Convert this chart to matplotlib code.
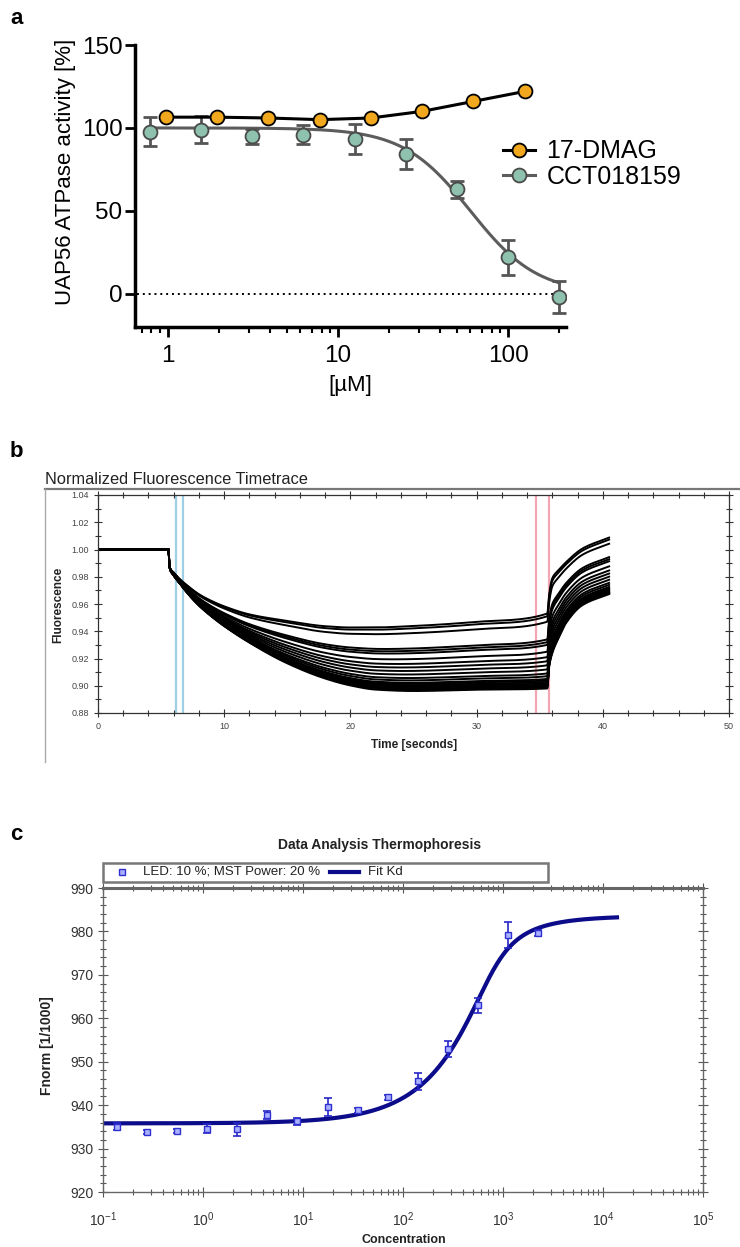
import numpy as np
import matplotlib
matplotlib.use("Agg")
import matplotlib.pyplot as plt
from matplotlib.lines import Line2D
from matplotlib.patches import Rectangle
from matplotlib.ticker import MultipleLocator, FormatStrFormatter, LogLocator, NullFormatter, FixedLocator, FixedFormatter

plt.rcParams['font.family'] = ['Liberation Sans', 'DejaVu Sans']
plt.rcParams['mathtext.fontset'] = 'custom'
plt.rcParams['mathtext.rm'] = 'Liberation Sans'
plt.rcParams['mathtext.it'] = 'Liberation Sans:italic'
plt.rcParams['mathtext.bf'] = 'Liberation Sans:bold'

# ---------------- Panel a data ----------------
dmag_conc = [0.98, 1.95, 3.9, 7.8, 15.6, 31.25, 62.5, 125]
dmag_act = [106.5, 106.5, 106, 105, 106, 110, 116, 122]
cct_conc = [0.78, 1.56, 3.125, 6.25, 12.5, 25, 50, 100, 200]
cct_act = [97.6, 99.0, 95.0, 96.0, 93.5, 84.5, 63.0, 22.0, -1.8]
cct_err = [8.7, 8.0, 4.5, 5.5, 9.0, 9.0, 5.0, 10.5, 9.5]
cct_fit_top, cct_fit_bottom, cct_fit_ic50, cct_fit_hill = 100.0, 0.0, 60.0, 2.2

# ---------------- Panel b data ----------------
time_knots = [0, 5.6, 5.65, 6.0, 6.5, 7.0, 8.0, 9.0, 10.0, 12.0, 15.0, 18.0, 20.0, 22.0,
              25.0, 30.0, 35.6, 35.75, 36.0, 36.5, 37.1, 38.4, 40.5]
top_trace = [1.0, 1.0, 0.988, 0.983, 0.978, 0.974, 0.967, 0.962, 0.958, 0.952, 0.947, 0.943,
             0.942, 0.942, 0.943, 0.946, 0.952, 0.966, 0.978, 0.984, 0.990, 1.000, 1.008]
bottom_trace = [1.0, 1.0, 0.988, 0.981, 0.975, 0.969, 0.959, 0.951, 0.944, 0.932, 0.917, 0.906,
                0.901, 0.898, 0.897, 0.898, 0.899, 0.915, 0.925, 0.936, 0.947, 0.960, 0.968]
plateau_levels = [0.953, 0.951, 0.947, 0.934, 0.932, 0.930, 0.925, 0.921, 0.918, 0.915, 0.912,
                  0.909, 0.907, 0.905, 0.904, 0.903, 0.902, 0.901, 0.900, 0.900, 0.899, 0.899, 0.898]
cold_region = [6.2, 6.75]
hot_region = [34.7, 35.7]

# ---------------- Panel c data ----------------
mst_conc = [0.137, 0.275, 0.55, 1.1, 2.2, 4.4, 8.8, 17.6, 35.2, 70.3, 140.6, 281, 562, 1125, 2250]
mst_fnorm = [935.0, 933.8, 934.0, 934.6, 934.4, 937.7, 936.3, 939.6, 938.8, 941.8, 945.5, 952.9,
             963.0, 979.2, 979.6]
mst_err = [0.8, 0.5, 0.5, 1.0, 1.5, 1.0, 0.8, 2.0, 0.6, 0.6, 2.0, 1.8, 1.7, 3.0, 0.7]
fit_unbound, fit_bound, fit_target, fit_kd = 935.8, 983.6, 700.0, 100.0
conc_ticks = [0.1, 1, 10, 100, 1000, 10000, 100000]
conc_labels = ['$10^{-1}$', '$10^{0}$', '$10^{1}$', '$10^{2}$', '$10^{3}$', '$10^{4}$', '$10^{5}$']

W, H = 740, 1247
def fx(px): return px / W
def fy(py): return 1 - py / H

fig = plt.figure(figsize=(7.4, 12.47), dpi=100)

# ===================== Panel a =====================
axa = fig.add_axes([fx(135), fy(327), (566 - 135) / W, (327 - 45) / H])
axa.set_xscale('log')
axa.set_xlim(0.64, 219)
axa.set_ylim(-20, 150)
for s in ['top', 'right']:
    axa.spines[s].set_visible(False)
for s in ['left', 'bottom']:
    axa.spines[s].set_linewidth(2.5)
axa.set_yticks([0, 50, 100, 150])
axa.set_xticks([1, 10, 100])
axa.set_xticklabels(['1', '10', '100'])
axa.xaxis.set_minor_locator(LogLocator(base=10, subs=np.arange(2, 10)))
axa.xaxis.set_minor_formatter(NullFormatter())
axa.tick_params(axis='both', which='major', length=7, width=2, labelsize=17.5, direction='out')
axa.tick_params(axis='x', which='major', pad=6)
axa.tick_params(axis='y', which='major', pad=2)
axa.tick_params(axis='x', which='minor', length=4, width=1.5, direction='out')

axa.plot([0.66, 190], [0, 0], linestyle=(0, (1, 2)), color='black', lw=1.4, zorder=1)

xf = np.logspace(np.log10(cct_conc[0]), np.log10(cct_conc[-1]), 300)
yf = cct_fit_bottom + (cct_fit_top - cct_fit_bottom) / (1 + (xf / cct_fit_ic50) ** cct_fit_hill)
axa.plot(xf, yf, color='#5c5c5c', lw=2.2, zorder=2)
axa.errorbar(cct_conc, cct_act, yerr=cct_err, fmt='none', ecolor='#555555', elinewidth=2,
             capsize=5, capthick=2, zorder=3)
axa.plot(cct_conc, cct_act, 'o', ms=10, mfc='#8ec2ae', mec='#4a4a4a', mew=1.3, zorder=4)
axa.plot(dmag_conc, dmag_act, '-', color='black', lw=2.2, zorder=3)
axa.plot(dmag_conc, dmag_act, 'o', ms=10, mfc='#f2a81d', mec='black', mew=1.3, zorder=5)

h1 = Line2D([], [], color='black', lw=2.2, marker='o', ms=10, mfc='#f2a81d', mec='black', mew=1.3)
h2 = Line2D([], [], color='#5c5c5c', lw=2.2, marker='o', ms=10, mfc='#8ec2ae', mec='#4a4a4a', mew=1.3)
fig.legend([h1, h2], ['17-DMAG', 'CCT018159'], loc='upper left',
           bbox_to_anchor=(fx(490), fy(127)), frameon=False, fontsize=18,
           handlelength=1.3, handletextpad=0.45, labelspacing=0.05, borderpad=0)

fig.text(fx(66), fy(172), 'UAP56 ATPase activity [%]', rotation=90, ha='center', va='center',
         fontsize=16)
fig.text(fx(350), fy(386), '[µM]', ha='center', va='center', fontsize=16)
fig.text(fx(10), fy(18), 'a', fontsize=16, fontweight='bold', ha='left', va='center')

# ===================== Panel b =====================
def pchip(x, y, xn):
    x = np.asarray(x, float); y = np.asarray(y, float)
    h = np.diff(x); d = np.diff(y) / h
    m = np.zeros_like(y)
    for k in range(1, len(x) - 1):
        if d[k - 1] * d[k] > 0:
            w1 = 2 * h[k] + h[k - 1]; w2 = h[k] + 2 * h[k - 1]
            m[k] = (w1 + w2) / (w1 / d[k - 1] + w2 / d[k])
    m[0] = d[0]; m[-1] = d[-1]
    idx = np.clip(np.searchsorted(x, xn) - 1, 0, len(h) - 1)
    t = (xn - x[idx]) / h[idx]
    h00 = 2 * t**3 - 3 * t**2 + 1; h10 = t**3 - 2 * t**2 + t
    h01 = -2 * t**3 + 3 * t**2; h11 = t**3 - t**2
    return h00 * y[idx] + h10 * h[idx] * m[idx] + h01 * y[idx + 1] + h11 * h[idx] * m[idx + 1]

axb = fig.add_axes([fx(98), fy(713), (729 - 98) / W, (713 - 495) / H])
axb.set_xlim(0, 50)
axb.set_ylim(0.88, 1.04)
axb.xaxis.set_major_locator(MultipleLocator(10))
axb.xaxis.set_minor_locator(MultipleLocator(2))
axb.yaxis.set_major_locator(MultipleLocator(0.02))
axb.yaxis.set_minor_locator(MultipleLocator(0.01))
axb.yaxis.set_major_formatter(FormatStrFormatter('%.2f'))
axb.tick_params(which='both', direction='inout', top=True, right=True, width=0.8,
                labelsize=6.5, labelcolor='#444444', color='#333333')
axb.tick_params(which='major', length=6)
axb.tick_params(which='minor', length=4)
for s in axb.spines.values():
    s.set_linewidth(0.9); s.set_color('#333333')

for xv in cold_region:
    axb.axvline(xv, color='#9fcfe6', lw=1.6, zorder=1)
for xv in hot_region:
    axb.axvline(xv, color='#f2a5b2', lw=1.6, zorder=1)

tt = np.linspace(0, time_knots[-1], 1500)
top_c = pchip(time_knots, top_trace, tt)
bot_c = pchip(time_knots, bottom_trace, tt)
span = top_trace[16] - bottom_trace[16]
for p in plateau_levels:
    w = (top_trace[16] - p) / span
    axb.plot(tt, top_c + w * (bot_c - top_c), color='black', lw=1.4, zorder=2)

fig.text(fx(45), fy(479), 'Normalized Fluorescence Timetrace', fontsize=11.8, ha='left',
         va='center', color='#222222')
fig.add_artist(Line2D([fx(45), fx(740)], [fy(489), fy(489)], color='#777777', lw=1.6))
fig.add_artist(Line2D([fx(45), fx(45)], [fy(489), fy(762)], color='#aaaaaa', lw=1.0))
fig.text(fx(58), fy(605), 'Fluorescence', rotation=90, fontsize=8.5, fontweight='bold',
         ha='center', va='center', color='#222222')
fig.text(fx(414), fy(745), 'Time [seconds]', fontsize=8.5, fontweight='bold', ha='center',
         va='center', color='#222222')
fig.text(fx(10), fy(452), 'b', fontsize=16, fontweight='bold', ha='left', va='center')

# ===================== Panel c =====================
axc = fig.add_axes([fx(103), fy(1192), (703 - 103) / W, (1192 - 888) / H])
axc.set_xscale('log')
axc.set_xlim(0.1, 1e5)
axc.set_ylim(920, 990)
axc.yaxis.set_major_locator(MultipleLocator(10))
axc.yaxis.set_minor_locator(MultipleLocator(2))
axc.xaxis.set_major_locator(FixedLocator(conc_ticks))
axc.xaxis.set_major_formatter(FixedFormatter(conc_labels))
axc.xaxis.set_minor_locator(LogLocator(base=10, subs=np.arange(2, 10), numticks=100))
axc.xaxis.set_minor_formatter(NullFormatter())
axc.tick_params(which='both', direction='inout', top=True, right=True, width=0.8,
                labelsize=10, labelcolor='#333333', color='#555555')
axc.tick_params(which='major', length=7)
axc.tick_params(axis='x', which='major', pad=10)
axc.tick_params(which='minor', length=4)
for s in axc.spines.values():
    s.set_linewidth(1.0); s.set_color('#666666')
axc.spines['top'].set_linewidth(2.2)

cf = np.logspace(-1, np.log10(13800), 400)
S = fit_target + cf + fit_kd
frac = (S - np.sqrt(S**2 - 4 * fit_target * cf)) / (2 * fit_target)
axc.plot(cf, fit_unbound + (fit_bound - fit_unbound) * frac, color='#0c0c8a', lw=3, zorder=2)
axc.errorbar(mst_conc, mst_fnorm, yerr=mst_err, fmt='none', ecolor='#2626c8', elinewidth=1.2,
             capsize=3, capthick=1.2, zorder=3)
axc.plot(mst_conc, mst_fnorm, 's', ms=4.5, mfc='#a8b0ff', mec='#3030d0', mew=1.0, zorder=4)

fig.text(fx(380), fy(845), 'Data Analysis Thermophoresis', fontsize=10, fontweight='bold',
         ha='center', va='center', color='#222222')
fig.add_artist(Rectangle((fx(103), fy(882)), fx(548) - fx(103), fy(863) - fy(882),
                         facecolor='white', edgecolor='#777777', lw=1.8))
fig.add_artist(Line2D([fx(122)], [fy(872)], marker='s', ms=4.5, mfc='#a8b0ff', mec='#3030d0',
                      mew=1.0, linestyle='none'))
fig.text(fx(143), fy(872), 'LED: 10 %; MST Power: 20 %', fontsize=9.5, ha='left', va='center',
         color='#222222')
fig.add_artist(Line2D([fx(330), fx(359)], [fy(872), fy(872)], color='#0c0c8a', lw=3))
fig.text(fx(368), fy(872), 'Fit Kd', fontsize=9.5, ha='left', va='center', color='#222222')
fig.text(fx(47), fy(1046), 'Fnorm [1/1000]', rotation=90, fontsize=10, fontweight='bold',
         ha='center', va='center', color='#222222')
fig.text(fx(404), fy(1240), 'Concentration', fontsize=9, fontweight='bold', ha='center',
         va='center', color='#222222')
fig.text(fx(10), fy(835), 'c', fontsize=16, fontweight='bold', ha='left', va='center')

fig.savefig('out.png', dpi=100)
